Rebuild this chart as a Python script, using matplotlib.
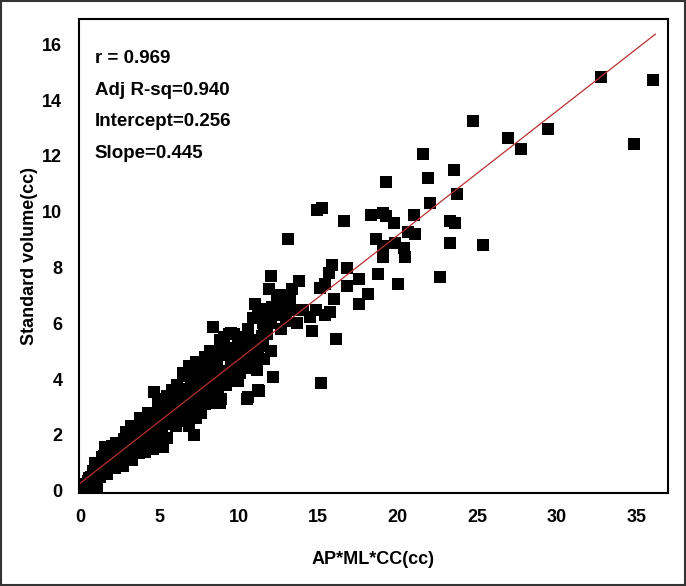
import numpy as np
import matplotlib
matplotlib.use('Agg')
from matplotlib import pyplot as plt
from matplotlib.patches import Rectangle

plt.rcParams['font.family'] = ['Liberation Sans', 'DejaVu Sans']

# AP*ML*CC (cc) vs standard volume (cc)
x_vals = [0.2, 0.3, 0.4, 0.5, 0.6, 0.7, 0.8, 0.9, 1.0, 1.0, 1.1, 1.2, 1.3, 1.3, 1.4, 1.5,
          1.6, 1.6, 1.7, 1.8, 1.9, 2.0, 2.1, 2.2, 2.3, 2.4, 2.5, 2.6, 2.7, 2.8, 2.9, 3.0,
          3.1, 3.2, 3.3, 3.4, 3.5, 3.6, 3.7, 3.8, 3.9, 4.0, 4.1, 4.2, 4.3, 4.4, 4.5, 4.6,
          4.7, 4.8, 4.9, 5.0, 5.0, 5.1, 5.2, 5.3, 5.4, 5.5, 5.6, 5.7, 5.8, 5.9, 6.0, 6.1,
          6.2, 6.3, 6.4, 6.5, 6.6, 6.7, 6.8, 6.9, 7.0, 7.0, 7.1, 7.2, 7.3, 7.4, 7.5, 7.6,
          7.7, 7.8, 7.9, 8.0, 8.1, 8.2, 8.3, 8.5, 8.6, 8.8, 8.9, 9.0, 9.2, 9.3, 9.5, 9.6,
          9.8, 10.0, 10.2, 10.4, 10.5, 10.8, 11.0, 11.2, 11.5, 11.8, 12.0,
          0.28, 0.41, 0.55, 0.83, 0.96, 1.10, 1.52, 1.65, 1.93, 2.48, 2.76, 3.31, 3.31,
          3.80, 3.86, 4.13, 4.41, 4.55, 4.68, 4.96, 5.10, 5.24, 5.37, 5.51, 5.65, 5.92,
          6.06, 6.06, 6.20, 6.34, 6.47, 6.75, 6.89, 6.89, 7.16, 7.16, 7.16, 7.30, 7.58,
          7.58, 7.99, 8.00, 8.27, 8.27, 8.35, 8.54, 8.68, 8.68, 8.82, 9.10, 9.23, 9.37,
          9.50, 9.51, 9.92, 9.92, 10.06, 10.33, 10.50, 10.61, 10.75, 10.97, 11.02, 11.16,
          11.20, 11.30, 11.30, 11.44, 11.57, 11.58, 11.71, 11.91, 12.00, 12.00, 12.13,
          12.40, 12.68, 12.69, 12.82, 12.96, 13.09, 13.23, 13.37, 13.50, 13.64, 13.78,
          14.05, 14.47, 14.58, 14.88, 14.94, 15.10, 15.16, 15.24, 15.43, 15.43, 15.65,
          15.71, 15.87, 15.98, 16.10, 16.62, 16.81, 16.81, 17.53, 17.58, 18.13, 18.30,
          18.63, 18.74, 19.10, 19.10, 19.10, 19.23, 19.29, 19.78, 19.84, 20.00, 20.39,
          20.44, 20.67, 21.00, 21.06, 21.58, 21.88, 22.04, 22.68, 23.26, 23.26, 23.53,
          23.59, 23.75, 24.74, 25.35, 26.92, 27.75, 29.46, 32.80, 34.86, 36.04,
          1.2, 1.5, 1.8, 2.0, 2.3, 2.6, 2.9, 3.2, 3.5, 3.8, 4.0, 4.3, 4.6, 4.9,
          5.2, 5.5, 5.8, 6.1, 6.4, 6.7, 7.0, 7.3, 7.6, 7.9, 8.2, 8.5, 8.8, 9.1,
          9.4, 9.7, 10.0, 10.3, 10.6, 10.9, 11.2, 11.5, 11.8, 12.1, 12.4, 12.7, 13.0]
y_vals = [0.10, 0.20, 0.15, 0.35, 0.25, 0.50, 0.30, 0.60, 0.45, 0.80, 0.20, 0.65, 0.90, 0.50, 1.20, 0.70,
          1.00, 1.55, 0.60, 1.30, 0.90, 1.10, 1.45, 0.80, 1.20, 1.00, 1.50, 1.30, 0.90, 1.70, 1.40, 1.20,
          1.85, 1.60, 1.10, 1.50, 1.90, 1.70, 1.35, 2.00, 1.80, 2.20, 1.60, 2.00, 2.40, 1.90, 2.10, 1.50,
          2.30, 2.60, 2.00, 1.60, 2.40, 2.80, 2.20, 3.00, 2.50, 1.90, 2.70, 3.20, 2.40, 2.90, 3.40, 2.60,
          3.00, 3.30, 2.80, 3.10, 2.50, 3.50, 3.00, 4.30, 3.20, 4.00, 2.90, 3.60, 4.20, 3.30, 3.90, 2.80,
          3.50, 4.10, 3.10, 3.70, 4.40, 3.40, 3.90, 3.60, 4.60, 4.00, 3.30, 4.30, 3.80, 4.90, 4.20, 5.10,
          4.50, 4.80, 5.20, 4.40, 5.00, 4.70, 5.30, 4.90, 5.20, 5.60, 6.00,
          0.11, 0.24, 0.44, 0.71, 0.98, 0.17, 1.25, 1.58, 0.98, 1.52, 1.85, 1.98, 1.11,
          2.59, 2.52, 1.38, 2.59, 2.19, 3.53, 3.26, 2.72, 1.58, 3.06, 2.45, 3.39, 2.72,
          2.32, 3.13, 3.53, 3.39, 4.20, 3.66, 4.47, 2.32, 4.20, 3.19, 1.98, 2.59, 4.06,
          3.39, 3.66, 4.47, 3.93, 3.13, 5.87, 4.20, 5.00, 3.46, 3.13, 3.80, 4.87, 5.61,
          5.65, 4.53, 5.40, 3.93, 4.20, 5.00, 3.30, 3.37, 5.40, 4.67, 6.68, 4.33,
          3.60, 6.35, 3.59, 5.54, 4.73, 5.94, 6.21, 7.22, 7.70, 5.00, 4.09,
          7.01, 5.79, 6.48, 7.01, 6.08, 9.03, 6.88, 7.22, 6.48, 6.01, 7.52,
          6.48, 6.21, 5.74, 6.48, 10.07, 7.26, 3.86, 10.13, 7.42, 6.28, 7.82,
          6.41, 8.09, 6.88, 5.43, 9.67, 7.98, 7.35, 6.68, 7.58, 7.04, 9.90,
          9.03, 7.75, 9.97, 8.76, 8.36, 11.07, 9.83, 9.59, 8.89, 7.42, 8.69,
          8.38, 9.27, 9.87, 9.19, 12.07, 11.21, 10.33, 7.66, 9.67, 8.89, 11.51,
          9.59, 10.64, 13.25, 8.80, 12.65, 12.25, 12.96, 14.82, 12.41, 14.73,
          1.00, 1.10, 1.00, 1.60, 1.70, 1.10, 2.10, 2.30, 1.60, 2.40, 2.60, 2.80, 2.70, 3.10,
          3.30, 3.40, 3.60, 3.80, 3.50, 4.10, 3.70, 4.60, 4.40, 4.80, 5.00, 4.90, 5.40, 5.50,
          5.00, 5.60, 5.50, 4.60, 5.80, 6.20, 6.40, 6.00, 6.50, 6.60, 6.30, 6.90, 6.70]

slope = 0.445
intercept = 0.256
fit_x = np.array([0.0, 36.2])
stats = ['r = 0.969', 'Adj R-sq=0.940', 'Intercept=0.256', 'Slope=0.445']

fig = plt.figure(figsize=(6.86, 5.86), dpi=100)
ax = fig.add_axes([0.1152, 0.1594, 0.8586, 0.8087])

ax.plot(x_vals, y_vals, 's', color='black', markersize=8.3, markeredgewidth=0)
ax.plot(fit_x, intercept + slope * fit_x, color='#b83030', linewidth=0.9)

ax.set_xlim(-0.05, 37.0)
ax.set_ylim(-0.07, 16.92)
ax.set_xticks(range(0, 36, 5))
ax.set_yticks(range(0, 17, 2))
ax.tick_params(length=0, labelsize=13, pad=12)
for lab in ax.get_xticklabels() + ax.get_yticklabels():
    lab.set_fontweight('bold')
for sp in ax.spines.values():
    sp.set_linewidth(1.5)

ax.set_xlabel('AP*ML*CC(cc)', fontsize=13, fontweight='bold', labelpad=18)
ax.set_ylabel('Standard volume(cc)', fontsize=13, fontweight='bold', labelpad=3)

for i, s in enumerate(stats):
    ax.text(0.95, 15.5 - i * 1.14, s, fontsize=13.5, fontweight='bold', va='center', ha='left')

fig.patches.append(Rectangle((0.001, 0.001), 0.997, 0.997, transform=fig.transFigure,
                             fill=False, edgecolor='#333333', linewidth=1.5))

plt.savefig('out.png', dpi=100)
